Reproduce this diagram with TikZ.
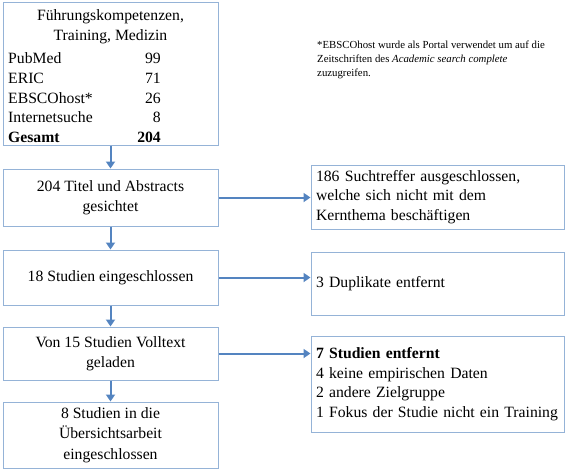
\documentclass[tikz,border=0pt]{standalone}
\usepackage{fontspec}
\setmainfont{Liberation Serif}
\usetikzlibrary{arrows.meta}
\definecolor{boxline}{RGB}{149,179,215}
\definecolor{arrowblue}{RGB}{84,132,192}
\begin{document}
\begin{tikzpicture}[x=1pt,y=-1pt,
  box/.style={draw=boxline, line width=1pt, minimum width=215pt, inner sep=0pt, align=center,
              font=\fontsize{15.7}{20.5}\selectfont},
  rbox/.style={draw=boxline, line width=1pt, minimum width=253pt, text width=243pt, inner xsep=5pt,
               inner ysep=0pt, align=left, font=\fontsize{15.7}{19.5}\selectfont},
  txt/.style={inner sep=0pt, font=\fontsize{15.7}{20}\selectfont},
  flow/.style={draw=arrowblue, line width=2pt, -{Triangle[width=9pt,length=7pt]}}
]
\useasboundingbox (0,0) rectangle (567,475);
% left column
\node[box, minimum height=143pt] (b1) at (110.5,73.5) {};
\node[txt] (t1) at (110.5,17) {Führungskompetenzen,};
\node[txt] (t2) at (110.5,37) {Training, Medizin};
\node[txt, anchor=west] (l1) at (8,58) {PubMed};
\node[txt, anchor=west] (l2) at (8,78) {ERIC};
\node[txt, anchor=west] (l3) at (8,98) {EBSCOhost*};
\node[txt, anchor=west] (l4) at (8,117) {Internetsuche};
\node[txt, anchor=west] (l5) at (8,137) {\bfseries Gesamt};
\node[txt, anchor=east] (n1) at (161,58) {99};
\node[txt, anchor=east] (n2) at (161,78) {71};
\node[txt, anchor=east] (n3) at (161,98) {26};
\node[txt, anchor=east] (n4) at (161,117) {8};
\node[txt, anchor=east] (n5) at (161,137) {\bfseries 204};

\node[box, minimum height=57pt] (b2) at (110.5,197.5) {204 Titel und Abstracts\\gesichtet};
\node[box, minimum height=55pt] (b3) at (110.5,277.5) {18 Studien eingeschlossen};
\node[box, minimum height=53pt] (b4) at (110.5,353.5) {Von 15 Studien Volltext\\geladen};
\node[box, minimum height=66pt] (b5) at (110.5,435) {8 Studien in die\\Übersichtsarbeit\\eingeschlossen};

% right column
\node[rbox, minimum height=64pt] (r2) at (437.5,197) {186 Suchtreffer ausgeschlossen,\\welche sich nicht mit dem\\Kernthema beschäftigen};
\node[rbox, minimum height=63pt] (r3) at (437.5,283.5) {3 Duplikate entfernt};
\node[rbox, minimum height=96pt] (r4) at (437.5,384) {\textbf{7 Studien entfernt}\\4 keine empirischen Daten\\2 andere Zielgruppe\\1 Fokus der Studie nicht ein Training};

% note
\node[inner sep=0pt, anchor=north west, align=left, font=\fontsize{10.8}{14}\selectfont] (note) at (317,41)
  {*EBSCOhost wurde als Portal verwendet um auf die\\Zeitschriften des \textit{Academic search complete}\\zuzugreifen.};

% connectors
\draw[flow] (b1.south) -- (b2.north);
\draw[flow] (b2.south) -- (b3.north);
\draw[flow] (b3.south) -- (b4.north);
\draw[flow] (b4.south) -- (b5.north);
\draw[flow] (b2.east) -- (b2.east -| r2.west);
\draw[flow] (b3.east) -- (b3.east -| r3.west);
\draw[flow] (b4.east) -- (b4.east -| r4.west);
\end{tikzpicture}
\end{document}
